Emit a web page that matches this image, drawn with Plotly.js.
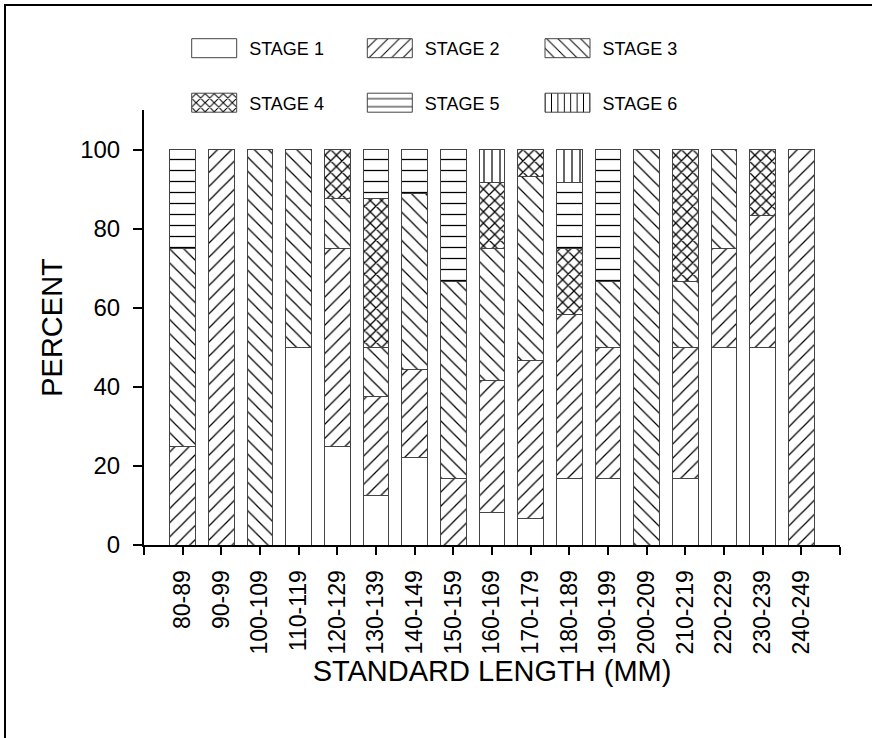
<!DOCTYPE html>
<html><head><meta charset="utf-8">
<script src="https://cdn.plot.ly/plotly-3.0.1.min.js"></script>
<style>
html,body{margin:0;padding:0;background:#fff;}
#chart{width:872px;height:738px;}
#frame{position:absolute;left:4px;top:4px;right:0;bottom:0;border-top:2px solid #000;border-left:2px solid #000;pointer-events:none;}
</style></head><body>
<div id="chart"></div><div id="frame"></div>
<script>
// ---- data (percent of fish in each maturity stage, by standard length class) ----
const categories = ['80-89','90-99','100-109','110-119','120-129','130-139','140-149','150-159','160-169','170-179','180-189','190-199','200-209','210-219','220-229','230-239','240-249'];
const stage1 = [0, 0, 0, 50, 25, 12.5, 22.2, 0, 8.3, 6.7, 16.7, 16.7, 0, 16.7, 50, 50, 0];
const stage2 = [25, 100, 0, 0, 50, 25, 22.2, 16.7, 33.4, 40, 41.6, 33.3, 0, 33.3, 25, 33.3, 100];
const stage3 = [50, 0, 100, 50, 12.5, 12.5, 44.5, 50, 33.3, 46.6, 0, 16.7, 100, 16.7, 25, 0, 0];
const stage4 = [0, 0, 0, 0, 12.5, 37.5, 0, 0, 16.7, 6.7, 16.7, 0, 0, 33.3, 0, 16.7, 0];
const stage5 = [25, 0, 0, 0, 0, 12.5, 11.1, 33.3, 0, 0, 16.7, 33.3, 0, 0, 0, 0, 0];
const stage6 = [0, 0, 0, 0, 0, 0, 0, 0, 8.3, 0, 8.3, 0, 0, 0, 0, 0, 0];
const stageNames = ['STAGE 1','STAGE 2','STAGE 3','STAGE 4','STAGE 5','STAGE 6'];
const yTicks = [0, 20, 40, 60, 80, 100];

// ---- build ----
const stages = [stage1, stage2, stage3, stage4, stage5, stage6];
const xIdx = categories.map((c, i) => i);
const patternStyle = [
  {shape: '', size: 10, solidity: 0.1},
  {shape: '/', size: 10, solidity: 0.125},
  {shape: '\\', size: 10, solidity: 0.125},
  {shape: 'x', size: 8, solidity: 0.3},
  {shape: '-', size: 11, solidity: 0.115},
  {shape: '|', size: 8, solidity: 0.15}
];
const legendIds = ['legend','legend2','legend3','legend4','legend5','legend6'];

const traces = stages.map((vals, k) => ({
  type: 'bar',
  x: xIdx,
  y: vals,
  name: stageNames[k],
  width: 0.66,
  legend: legendIds[k],
  hoverinfo: 'skip',
  marker: {
    color: '#ffffff',
    line: {color: '#444444', width: 1},
    pattern: Object.assign({fgcolor: '#000000', bgcolor: '#ffffff', fillmode: 'replace'}, patternStyle[k])
  }
}));

const FONT = 'Liberation Sans, Arial, sans-serif';
const LFONT = {family: FONT, size: 18, color: '#000'};
const W = 872, H = 738;
const colStart = [179.2, 354.8, 532.5];
const rowMid = [48.5, 103];

const layout = {
  width: W, height: H,
  margin: {l: 144, r: 32, t: 110, b: 193, pad: 0, autoexpand: false},
  paper_bgcolor: 'rgba(0,0,0,0)',
  plot_bgcolor: '#ffffff',
  barmode: 'stack',
  font: {family: FONT, color: '#000'},
  xaxis: {
    range: [-1, categories.length],
    tickmode: 'array',
    tickvals: [-1].concat(xIdx, [categories.length]),
    ticktext: [''].concat(categories, ['']),
    tickangle: -90,
    ticks: 'outside', ticklen: 8, tickwidth: 1.5, tickcolor: '#000',
    showline: true, linecolor: '#000', linewidth: 2,
    showgrid: false, zeroline: false,
    tickfont: {size: 23, family: FONT},
    ticklabelstandoff: 6,
    title: {text: 'STANDARD LENGTH (MM)', font: {size: 29, family: FONT}, standoff: 0},
    automargin: false, fixedrange: true
  },
  yaxis: {
    range: [0, 110],
    tickmode: 'array', tickvals: yTicks,
    ticks: 'outside', ticklen: 9, tickwidth: 1.5, tickcolor: '#000',
    showline: true, linecolor: '#000', linewidth: 2,
    showgrid: false, zeroline: false,
    tickfont: {size: 24, family: FONT},
    ticklabelstandoff: 8,
    title: {text: 'PERCENT', font: {size: 29, family: FONT}, standoff: 9},
    automargin: false, fixedrange: true
  },
  yaxis2: {
    overlaying: 'y', anchor: 'x', side: 'left',
    range: [0, 110],
    tickmode: 'array', tickvals: yTicks,
    ticks: 'inside', ticklen: 9, tickwidth: 1.5, tickcolor: '#000',
    showticklabels: false, showline: false, showgrid: false, zeroline: false,
    fixedrange: true
  },
  showlegend: true
};

legendIds.forEach((id, k) => {
  const col = k % 3, row = Math.floor(k / 3);
  layout[id] = {
    xref: 'container', yref: 'container',
    x: colStart[col] / W, y: 1 - rowMid[row] / H,
    xanchor: 'left', yanchor: 'middle',
    orientation: 'h', itemwidth: 60,
    font: LFONT, bgcolor: 'rgba(0,0,0,0)', borderwidth: 0,
    itemclick: false, itemdoubleclick: false
  };
});

Plotly.newPlot('chart', traces, layout, {displayModeBar: false}).then(gd => {
  gd.querySelectorAll('.legendpoints path').forEach(p => {
    p.setAttribute('d', 'M22.5,9.5H-22.5V-9.5H22.5Z');
  });
});
</script>
</body></html>
